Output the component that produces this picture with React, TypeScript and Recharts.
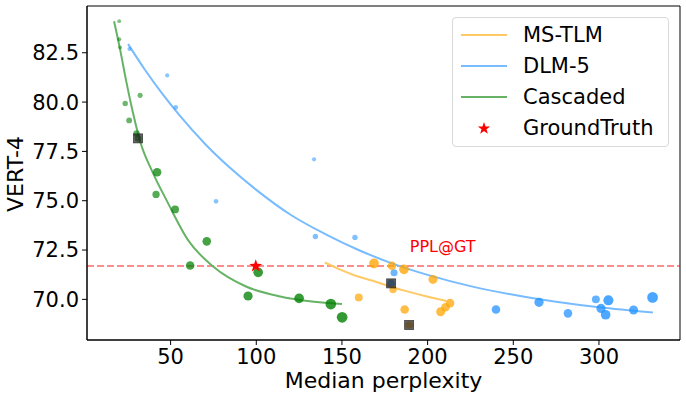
import React from 'react';
import {
  ComposedChart,
  Scatter,
  Line,
  XAxis,
  YAxis,
  ZAxis,
  ReferenceLine,
  ReferenceDot,
  ReferenceArea,
  Legend,
  Label,
} from 'recharts';

// ---- axis ticks / domains ----
const xTicks = [50, 100, 150, 200, 250, 300];
const yTicks = [70, 72.5, 75, 77.5, 80, 82.5];
const xDomain: [number, number] = [1.2, 347.3];
const yDomain: [number, number] = [67.94, 84.87];

// ---- series names ----
const seriesNames = ['MS-TLM', 'DLM-5', 'Cascaded', 'GroundTruth'];

// ---- scatter points (x = median perplexity, y = VERT-4, w = marker weight) ----
const cascadedPoints = [
  { x: 20.0, y: 84.1, w: 1.0 },
  { x: 20.0, y: 83.18, w: 1.2 },
  { x: 20.5, y: 82.77, w: 1.0 },
  { x: 32.2, y: 80.34, w: 1.8 },
  { x: 23.5, y: 79.93, w: 2.0 },
  { x: 25.8, y: 79.07, w: 2.3 },
  { x: 30.1, y: 78.41, w: 2.8 },
  { x: 31.0, y: 78.16, w: 3.0 },
  { x: 42.1, y: 76.44, w: 5.0 },
  { x: 41.5, y: 75.32, w: 3.6 },
  { x: 52.6, y: 74.56, w: 4.3 },
  { x: 71.1, y: 72.94, w: 5.0 },
  { x: 61.4, y: 71.72, w: 5.0 },
  { x: 101.1, y: 71.37, w: 6.4 },
  { x: 95.2, y: 70.17, w: 5.8 },
  { x: 125.0, y: 70.05, w: 6.4 },
  { x: 143.5, y: 69.76, w: 7.8 },
  { x: 150.1, y: 69.09, w: 7.8 },
];

const dlmPoints = [
  { x: 26.0, y: 82.69, w: 1.2 },
  { x: 48.0, y: 81.35, w: 1.2 },
  { x: 53.0, y: 79.73, w: 1.5 },
  { x: 76.5, y: 74.97, w: 1.5 },
  { x: 133.7, y: 77.1, w: 1.2 },
  { x: 134.5, y: 73.19, w: 2.0 },
  { x: 157.6, y: 73.14, w: 2.0 },
  { x: 180.4, y: 71.35, w: 3.4 },
  { x: 178.7, y: 70.81, w: 4.0 },
  { x: 239.9, y: 69.49, w: 5.0 },
  { x: 265.0, y: 69.85, w: 5.8 },
  { x: 281.9, y: 69.29, w: 5.0 },
  { x: 298.2, y: 70.0, w: 4.3 },
  { x: 305.5, y: 69.95, w: 6.9 },
  { x: 301.2, y: 69.54, w: 5.8 },
  { x: 303.9, y: 69.22, w: 6.4 },
  { x: 320.2, y: 69.46, w: 5.5 },
  { x: 331.3, y: 70.1, w: 7.8 },
];

const mstlmPoints = [
  { x: 168.7, y: 71.82, w: 6.4 },
  { x: 179.2, y: 71.7, w: 5.0 },
  { x: 186.2, y: 71.52, w: 6.4 },
  { x: 203.1, y: 71.01, w: 5.5 },
  { x: 179.8, y: 70.5, w: 3.8 },
  { x: 159.8, y: 70.1, w: 4.3 },
  { x: 186.6, y: 69.49, w: 5.0 },
  { x: 213.1, y: 69.81, w: 5.0 },
  { x: 210.4, y: 69.6, w: 5.0 },
  { x: 207.6, y: 69.37, w: 5.5 },
  { x: 189.2, y: 68.7, w: 4.0 },
];

// ---- fitted trend curves ----
const mstlmCurve = [
  { x: 140, y: 71.87 },
  { x: 148.7, y: 71.52 },
  { x: 158, y: 71.2 },
  { x: 168, y: 70.94 },
  { x: 177, y: 70.68 },
  { x: 187, y: 70.43 },
  { x: 199, y: 70.16 },
  { x: 211, y: 69.92 },
];

const dlmCurve = [
  { x: 25.2, y: 82.94 },
  { x: 35, y: 81.64 },
  { x: 45, y: 80.44 },
  { x: 55, y: 79.35 },
  { x: 70, y: 77.89 },
  { x: 85, y: 76.64 },
  { x: 100, y: 75.55 },
  { x: 120, y: 74.29 },
  { x: 140, y: 73.32 },
  { x: 160, y: 72.49 },
  { x: 180, y: 71.8 },
  { x: 200, y: 71.24 },
  { x: 225, y: 70.67 },
  { x: 250, y: 70.23 },
  { x: 275, y: 69.88 },
  { x: 300, y: 69.6 },
  { x: 331.5, y: 69.34 },
];

const cascadedCurve = [
  { x: 17, y: 84.1 },
  { x: 20.4, y: 82.72 },
  { x: 24, y: 81.1 },
  { x: 28.1, y: 79.43 },
  { x: 32, y: 78.07 },
  { x: 39.8, y: 76.39 },
  { x: 47.6, y: 75.03 },
  { x: 60.2, y: 73.0 },
  { x: 75, y: 71.65 },
  { x: 94, y: 70.65 },
  { x: 114, y: 70.15 },
  { x: 130, y: 69.92 },
  { x: 150, y: 69.76 },
];

// ---- markers ----
const highlightSquares = [
  { x: 31.0, y: 78.16 },
  { x: 178.7, y: 70.81 },
  { x: 189.2, y: 68.7 },
];
const groundTruth = [{ x: 99.7, y: 71.69 }];
const gtLevel = 71.69;
const gtLabel = { x: 189.6, y: 72.68, text: 'PPL@GT' };

// ---- styling ----
const FONT = 'DejaVu Sans';
const C_ORANGE = '#ffa500';
const C_BLUE = '#1e90ff';
const C_GREEN = '#008000';
const lineColors = ['#ffc966', '#78bcff', '#66b366'];

const makeDot = (color: string) => (props: any) => {
  const { cx, cy } = props;
  if (cx == null || cy == null) return <g />;
  const r = props.width ? props.width / 2 : Math.sqrt((props.size || 20) / Math.PI);
  const op = Math.min(0.8, 0.3 + 0.1 * r);
  return <circle cx={cx} cy={cy} r={r} fill={color} fillOpacity={op} />;
};

const squareShape = (props: any) => {
  const { cx, cy } = props;
  if (cx == null || cy == null) return <g />;
  const s = 9;
  return (
    <rect
      x={cx - s / 2}
      y={cy - s / 2}
      width={s}
      height={s}
      fill="#222"
      fillOpacity={0.7}
      stroke="#222"
      strokeOpacity={0.8}
      strokeWidth={0.8}
    />
  );
};

const starPoints = (cx: number, cy: number, R: number, r: number) => {
  const pts: string[] = [];
  for (let i = 0; i < 10; i++) {
    const rad = i % 2 === 0 ? R : r;
    const a = -Math.PI / 2 + (i * Math.PI) / 5;
    pts.push(`${cx + rad * Math.cos(a)},${cy + rad * Math.sin(a)}`);
  }
  return pts.join(' ');
};

const starShape = (props: any) => {
  const { cx, cy } = props;
  if (cx == null || cy == null) return <g />;
  return <polygon points={starPoints(cx, cy, 6.8, 2.7)} fill="red" />;
};

const LegendBox = () => {
  const rowsY = [17, 48, 79, 110];
  return (
    <div
      style={{
        boxSizing: 'border-box',
        width: 217,
        height: 130,
        border: '1px solid #d9d9d9',
        borderRadius: 4,
        background: 'rgba(255,255,255,0.8)',
        position: 'relative',
        fontFamily: FONT,
        fontSize: 21,
        color: '#000',
      }}
    >
      {seriesNames.map((name, i) => (
        <div key={name}>
          <svg
            width={50}
            height={16}
            style={{ position: 'absolute', left: 6, top: rowsY[i] - 8 }}
          >
            {i < 3 ? (
              <line x1={2} y1={8} x2={48} y2={8} stroke={lineColors[i]} strokeWidth={2} />
            ) : (
              <polygon points={starPoints(25, 8.5, 6.5, 2.6)} fill="red" />
            )}
          </svg>
          <span
            style={{
              position: 'absolute',
              left: 70,
              top: rowsY[i] - 13,
              lineHeight: '26px',
              whiteSpace: 'nowrap',
            }}
          >
            {name}
          </span>
        </div>
      ))}
    </div>
  );
};

export default function App() {
  return (
    <div style={{ position: 'absolute', left: 0, top: 0, width: 686, height: 398, background: '#fff' }}>
      <ComposedChart
        width={686}
        height={398}
        margin={{ top: 6, right: 6, left: 0, bottom: 0 }}
      >
        <XAxis
          type="number"
          dataKey="x"
          domain={xDomain}
          ticks={xTicks}
          allowDataOverflow
          height={58}
          tickSize={5}
          tickMargin={4}
          stroke="#000"
          tick={{ fill: '#000', fontSize: 21, fontFamily: FONT }}
          label={
            <Label
              content={(p: any) => {
                const vb = p.viewBox || { x: 87, width: 593 };
                return (
                  <text
                    x={vb.x + vb.width / 2}
                    y={388.3}
                    textAnchor="middle"
                    fontSize={22}
                    fontFamily={FONT}
                    fill="#000"
                  >
                    Median perplexity
                  </text>
                );
              }}
            />
          }
        />
        <YAxis
          type="number"
          dataKey="y"
          domain={yDomain}
          ticks={yTicks}
          allowDataOverflow
          width={87}
          tickSize={5}
          tickMargin={3}
          stroke="#000"
          tickFormatter={(v: number) => v.toFixed(1)}
          tick={{ fill: '#000', fontSize: 21, fontFamily: FONT }}
          label={
            <Label
              content={() => (
                <text
                  x={22.7}
                  y={174}
                  transform="rotate(-90, 22.7, 174)"
                  textAnchor="middle"
                  fontSize={22}
                  fontFamily={FONT}
                  fill="#000"
                >
                  VERT-4
                </text>
              )}
            />
          }
        />
        <ZAxis type="number" dataKey="w" domain={[0, 10]} range={[0, 115]} />
        <ReferenceArea
          x1={xDomain[0]}
          x2={xDomain[1]}
          y1={yDomain[0]}
          y2={yDomain[1]}
          fill="none"
          stroke="#000"
          strokeWidth={1}
          ifOverflow="visible"
        />
        <ReferenceLine
          y={gtLevel}
          stroke="red"
          strokeOpacity={0.45}
          strokeWidth={2}
          strokeDasharray="7 3"
        />
        <Scatter name="cascaded-pts" data={cascadedPoints} shape={makeDot(C_GREEN)} isAnimationActive={false} />
        <Scatter name="dlm-pts" data={dlmPoints} shape={makeDot(C_BLUE)} isAnimationActive={false} />
        <Scatter name="mstlm-pts" data={mstlmPoints} shape={makeDot(C_ORANGE)} isAnimationActive={false} />
        <Line
          name={seriesNames[0]}
          data={mstlmCurve}
          dataKey="y"
          type="monotone"
          stroke={lineColors[0]}
          strokeWidth={2}
          dot={false}
          activeDot={false}
          isAnimationActive={false}
        />
        <Line
          name={seriesNames[1]}
          data={dlmCurve}
          dataKey="y"
          type="monotone"
          stroke={lineColors[1]}
          strokeWidth={2}
          dot={false}
          activeDot={false}
          isAnimationActive={false}
        />
        <Line
          name={seriesNames[2]}
          data={cascadedCurve}
          dataKey="y"
          type="monotone"
          stroke={lineColors[2]}
          strokeWidth={2}
          dot={false}
          activeDot={false}
          isAnimationActive={false}
        />
        <Scatter name="squares" data={highlightSquares} shape={squareShape} isAnimationActive={false} />
        <Scatter name={seriesNames[3]} data={groundTruth} shape={starShape} isAnimationActive={false} />
        <ReferenceDot
          x={gtLabel.x}
          y={gtLabel.y}
          r={0}
          ifOverflow="visible"
          shape={(p: any) => (
            <text
              x={p.cx}
              y={p.cy}
              dominantBaseline="central"
              fontSize={16}
              fontFamily={FONT}
              fill="red"
            >
              {gtLabel.text}
            </text>
          )}
        />
        <Legend
          layout="horizontal"
          verticalAlign="middle"
          align="center"
          wrapperStyle={{ position: 'absolute', left: 452, top: 17, width: 217, height: 130 }}
          content={() => <LegendBox />}
        />
      </ComposedChart>
    </div>
  );
}
